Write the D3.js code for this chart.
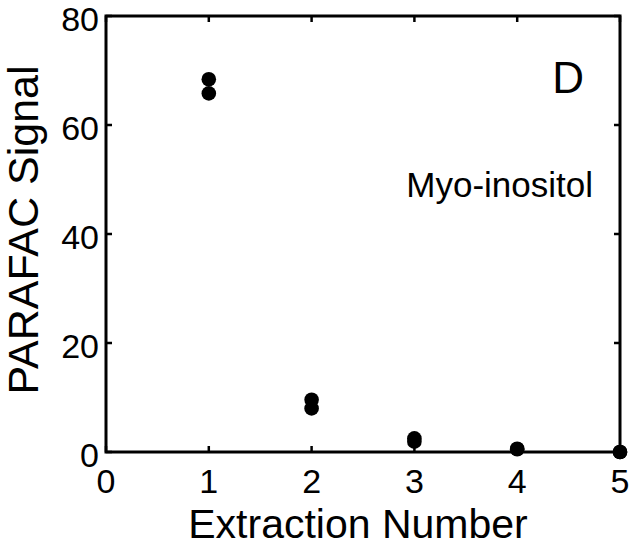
<!DOCTYPE html>
<html><head><meta charset="utf-8">
<script src="https://cdn.jsdelivr.net/npm/d3@7"></script>
<style>body{margin:0;background:#fff}svg{display:block}text{font-family:"Liberation Sans",Arial,sans-serif;fill:#000}</style>
</head><body>
<svg id="c" width="634" height="550"></svg>
<script>
const extraction = [1,1,2,2,3,3,4,4,5,5];
const signal = [68.4,65.8,9.6,8.0,2.5,1.9,0.6,0.5,0.0,0.0];
const xTicks = [0,1,2,3,4,5];
const yTicks = [0,20,40,60,80];
const xLabel = "Extraction Number";
const yLabel = "PARAFAC Signal";
const panelLabel = "D";
const compound = "Myo-inositol";

const svg = d3.select("#c");
const L=106, R=620, T=16, B=452;
const x = d3.scaleLinear().domain([0,5]).range([L,R]);
const y = d3.scaleLinear().domain([0,80]).range([B,T]);

const g = svg.append("g");
const tk = 6;
g.selectAll(".tb").data(xTicks).join("line").attr("x1",d=>x(d)).attr("x2",d=>x(d)).attr("y1",B).attr("y2",B-tk).attr("stroke","#000").attr("stroke-width",2.5);
g.selectAll(".tt").data(xTicks).join("line").attr("x1",d=>x(d)).attr("x2",d=>x(d)).attr("y1",T).attr("y2",T+tk).attr("stroke","#000").attr("stroke-width",2.5);
g.selectAll(".tl").data(yTicks).join("line").attr("x1",L).attr("x2",L+tk).attr("y1",d=>y(d)).attr("y2",d=>y(d)).attr("stroke","#000").attr("stroke-width",2.5);
g.selectAll(".tr").data(yTicks).join("line").attr("x1",R).attr("x2",R-tk).attr("y1",d=>y(d)).attr("y2",d=>y(d)).attr("stroke","#000").attr("stroke-width",2.5);
g.append("rect").attr("x",L).attr("y",T).attr("width",R-L).attr("height",B-T).attr("fill","none").attr("stroke","#000").attr("stroke-width",3);

g.selectAll(".xl").data(xTicks).join("text").attr("x",d=>x(d)).attr("y",493).attr("text-anchor","middle").attr("font-size",34).text(d=>d);
g.selectAll(".yl").data(yTicks).join("text").attr("x",99).attr("y",d=>y(d)+15).attr("text-anchor","end").attr("font-size",34).text(d=>d);

svg.append("text").attr("x",358).attr("y",538).attr("text-anchor","middle").attr("font-size",41).text(xLabel);
svg.append("text").attr("transform",`translate(38,230) rotate(-90)`).attr("text-anchor","middle").attr("font-size",43).text(yLabel);
svg.append("text").attr("x",584).attr("y",93).attr("text-anchor","end").attr("font-size",44).text(panelLabel);
svg.append("text").attr("x",593).attr("y",197).attr("text-anchor","end").attr("font-size",35).text(compound);

svg.selectAll(".pt").data(extraction.map((e,i)=>[e,signal[i]])).join("circle")
  .attr("cx",d=>x(d[0])).attr("cy",d=>y(d[1])).attr("r",7.3).attr("fill","#000");
</script>
</body></html>
